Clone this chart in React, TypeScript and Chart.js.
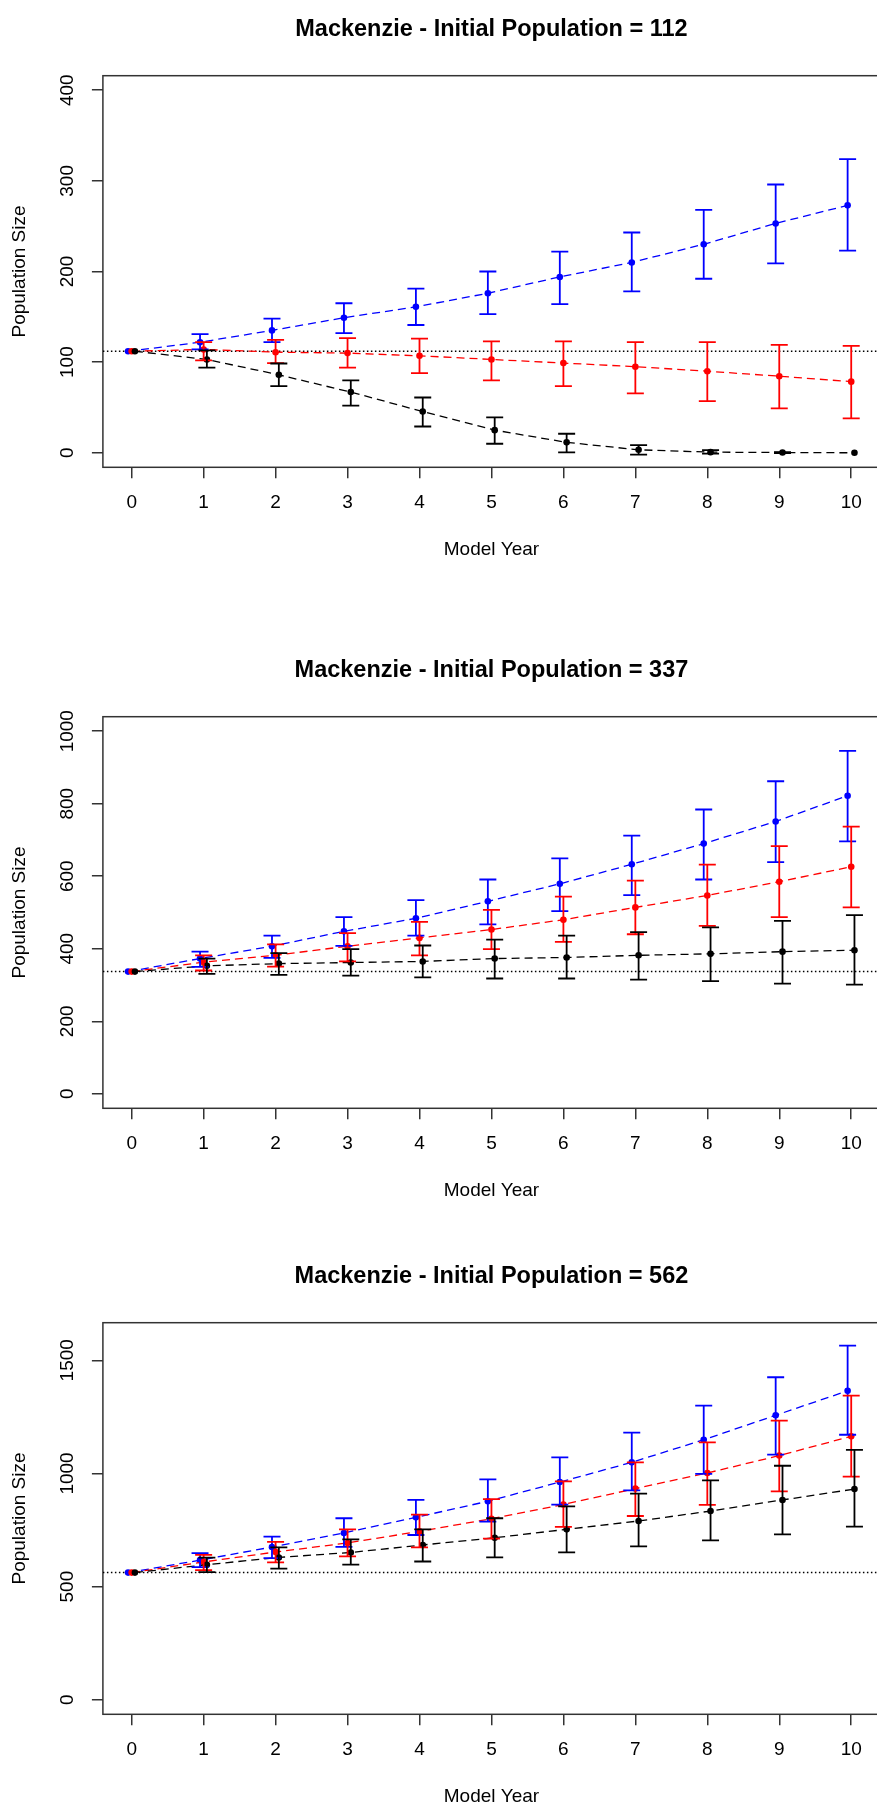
import React, { useEffect, useRef } from "react";
import { Chart, registerables } from "chart.js";

Chart.register(...registerables);

const FONT = '"Liberation Sans", Arial, Helvetica, sans-serif';

// Shared x axis: model years, padded 4% each side like base R plots
const YEARS = [0, 1, 2, 3, 4, 5, 6, 7, 8, 9, 10];
const X_MIN = -0.4;
const X_MAX = 10.4;
const X_TITLE = "Model Year";
const Y_TITLE = "Population Size";

// small horizontal nudges so the three scenarios don't hide each other
const NUDGE_BLUE = -0.05;
const NUDGE_RED = 0;
const NUDGE_BLACK = 0.045;

const BLUE = "#0000ff";
const RED = "#ff0000";
const BLACK = "#000000";

// ---- Initial population 112 ----
const P112_TITLE = "Mackenzie - Initial Population = 112";
const P112_START = 112;
const P112_Y_TICKS = [0, 100, 200, 300, 400];
const P112_Y_MIN = -16;
const P112_Y_MAX = 416;
const P112_BLUE = [112, 122, 135, 149, 161, 176, 194, 210, 230, 253, 273];
const P112_BLUE_LO = [112, 114, 122, 132, 141, 153, 164, 178, 192, 209, 223];
const P112_BLUE_HI = [112, 131, 148, 165, 181, 200, 222, 243, 268, 296, 324];
const P112_RED = [112, 114, 111, 110, 107, 103, 99, 95, 90, 84.5, 78.5];
const P112_RED_LO = [112, 102, 99, 94, 88, 80, 73.5, 65.5, 57, 49, 38];
const P112_RED_HI = [112, 122, 124.5, 126.5, 126, 123, 123, 122, 122, 119, 118];
const P112_BLACK = [112, 103, 86, 67, 45.5, 25, 11.5, 3.3, 0.7, 0.3, 0];
const P112_BLACK_LO = [112, 94, 73.5, 52, 29, 10, 0.5, -2, -1, -0.2, 0];
const P112_BLACK_HI = [112, 113, 98.5, 80, 61, 39, 21, 8.5, 3, 0.8, 0];

// ---- Initial population 337 ----
const P337_TITLE = "Mackenzie - Initial Population = 337";
const P337_START = 337;
const P337_Y_TICKS = [0, 200, 400, 600, 800, 1000];
const P337_Y_MIN = -40;
const P337_Y_MAX = 1040;
const P337_BLUE = [337, 373, 407, 448, 484, 531, 579, 633, 690, 751, 822];
const P337_BLUE_LO = [337, 350, 375, 408, 436, 467, 504, 548, 591, 639, 696];
const P337_BLUE_HI = [337, 392, 436, 487, 534, 591, 649, 712, 784, 862, 946];
const P337_RED = [337, 363, 382, 407, 430, 453, 480, 514, 547, 585, 626];
const P337_RED_LO = [337, 340, 351, 365, 382, 399, 419, 440, 463, 487, 514];
const P337_RED_HI = [337, 382, 412, 443, 474, 507, 544, 588, 632, 683, 737];
const P337_BLACK = [337, 353, 359, 362, 365, 373, 376, 382, 386, 392, 396];
const P337_BLACK_LO = [337, 331, 328, 326, 321, 318, 318, 315, 311, 304, 301];
const P337_BLACK_HI = [337, 373, 388, 399, 409, 425, 436, 446, 459, 477, 493];

// ---- Initial population 562 ----
const P562_TITLE = "Mackenzie - Initial Population = 562";
const P562_START = 562;
const P562_Y_TICKS = [0, 500, 1000, 1500];
const P562_Y_MIN = -64;
const P562_Y_MAX = 1666;
const P562_BLUE = [562, 617, 675, 737, 806, 877, 962, 1049, 1149, 1257, 1365];
const P562_BLUE_LO = [562, 586, 626, 676, 728, 787, 862, 925, 998, 1083, 1171];
const P562_BLUE_HI = [562, 648, 721, 802, 883, 974, 1071, 1180, 1300, 1425, 1565];
const P562_RED = [562, 609, 653, 693, 744, 800, 863, 933, 1002, 1079, 1164];
const P562_RED_LO = [562, 573, 607, 634, 673, 712, 764, 812, 861, 921, 986];
const P562_RED_HI = [562, 640, 698, 753, 818, 887, 965, 1049, 1137, 1233, 1344];
const P562_BLACK = [562, 597, 629, 651, 684, 716, 753, 790, 834, 883, 931];
const P562_BLACK_LO = [562, 564, 580, 597, 611, 629, 651, 678, 704, 731, 765];
const P562_BLACK_HI = [562, 628, 673, 709, 753, 802, 855, 911, 969, 1034, 1104];

// panel geometry
const CANVAS_W = 880;
const CANVAS_H = 580;
const PLOT_LEFT = 102.9;
const PLOT_BOTTOM = 467.3;
const TICK_LEN = 11;
const AXIS_FONT_SIZE = 19;
const TITLE_FONT_SIZE = 23.5;

type Series = {
  mean: number[];
  low: number[];
  high: number[];
  color: string;
  nudge: number;
  order: number;
};

type PanelProps = {
  top: number;
  title: string;
  start: number;
  yTicks: number[];
  yMin: number;
  yMax: number;
  series: Series[];
};

// vertical error bars with flat caps, drawn through the chart's scales
const errorBarPlugin = {
  id: "errorBars",
  afterDatasetsDraw(chart: any) {
    const { ctx } = chart;
    const xs = chart.scales.x;
    const ys = chart.scales.y;
    const cap = 8.5;
    const withBars = chart.data.datasets
      .filter((ds: any) => ds.errLow)
      .sort((a: any, b: any) => b.order - a.order);
    for (const ds of withBars) {
      ctx.save();
      ctx.strokeStyle = ds.borderColor;
      ctx.lineWidth = 1.8;
      ds.data.forEach((p: any, j: number) => {
        const lo = ds.errLow[j];
        const hi = ds.errHigh[j];
        if (!(hi > lo)) return;
        const px = xs.getPixelForValue(p.x);
        const yLo = ys.getPixelForValue(lo);
        const yHi = ys.getPixelForValue(hi);
        ctx.beginPath();
        ctx.moveTo(px, yLo);
        ctx.lineTo(px, yHi);
        ctx.moveTo(px - cap, yLo);
        ctx.lineTo(px + cap, yLo);
        ctx.moveTo(px - cap, yHi);
        ctx.lineTo(px + cap, yHi);
        ctx.stroke();
      });
      ctx.restore();
    }
  },
};

// frame around the plotting region
const plotBoxPlugin = {
  id: "plotBox",
  beforeDatasetsDraw(chart: any) {
    const { ctx, chartArea } = chart;
    ctx.save();
    ctx.strokeStyle = "#333333";
    ctx.lineWidth = 1.5;
    ctx.strokeRect(
      chartArea.left,
      chartArea.top,
      chartArea.right - chartArea.left,
      chartArea.bottom - chartArea.top
    );
    ctx.restore();
  },
};

function Panel({ top, title, start, yTicks, yMin, yMax, series }: PanelProps) {
  const ref = useRef<HTMLCanvasElement>(null);

  useEffect(() => {
    const canvas = ref.current;
    if (!canvas) return;
    const mctx = canvas.getContext("2d")!;
    mctx.font = `${AXIS_FONT_SIZE}px ${FONT}`;
    const widest = Math.max(...yTicks.map((v) => mctx.measureText(String(v)).width));
    const yLabelCenter = 67.4;
    const yPad = PLOT_LEFT - TICK_LEN - widest / 2 - yLabelCenter;

    const axisFont = { family: FONT, size: AXIS_FONT_SIZE };
    const gridOpts = {
      drawOnChartArea: false,
      drawTicks: true,
      tickLength: TICK_LEN,
      color: "#333333",
      lineWidth: 1.5,
    };

    const datasets: any[] = [
      {
        label: "start",
        data: [
          { x: X_MIN, y: start },
          { x: X_MAX, y: start },
        ],
        borderColor: BLACK,
        borderWidth: 1.5,
        borderDash: [1.5, 2.5],
        pointRadius: 0,
        pointHoverRadius: 0,
        order: 10,
      },
      ...series.map((s) => ({
        label: s.color,
        data: YEARS.map((yr, i) => ({ x: yr + s.nudge, y: s.mean[i] })),
        borderColor: s.color,
        backgroundColor: s.color,
        borderWidth: 1.3,
        borderDash: [8, 5],
        pointRadius: 3.3,
        pointHoverRadius: 3.3,
        pointBorderWidth: 0,
        pointBackgroundColor: s.color,
        tension: 0,
        order: s.order,
        errLow: s.low,
        errHigh: s.high,
      })),
    ];

    const chart = new Chart(canvas, {
      type: "line",
      data: { datasets },
      options: {
        animation: false,
        responsive: false,
        devicePixelRatio: 1,
        events: [],
        layout: { padding: 0, autoPadding: false },
        plugins: {
          legend: { display: false },
          tooltip: { enabled: false },
          title: {
            display: true,
            text: title,
            fullSize: false,
            color: "#000000",
            font: { family: FONT, size: TITLE_FONT_SIZE, weight: "bold" },
            padding: { top: 15.5, bottom: 32.0 },
          },
        },
        scales: {
          x: {
            type: "linear",
            min: X_MIN,
            max: X_MAX,
            afterBuildTicks: (s: any) => {
              s.ticks = YEARS.map((v) => ({ value: v }));
            },
            afterFit: (s: any) => {
              s.height = CANVAS_H - PLOT_BOTTOM;
            },
            grid: gridOpts,
            border: { display: false },
            ticks: {
              autoSkip: false,
              minRotation: 0,
              maxRotation: 0,
              padding: 13.3,
              color: "#000000",
              font: axisFont,
              callback: (v: any) => String(v),
            },
            title: {
              display: true,
              text: X_TITLE,
              color: "#000000",
              font: axisFont,
              padding: { top: 0, bottom: 18.8 },
            },
          },
          y: {
            type: "linear",
            min: yMin,
            max: yMax,
            afterBuildTicks: (s: any) => {
              s.ticks = yTicks.map((v) => ({ value: v }));
            },
            afterFit: (s: any) => {
              s.width = PLOT_LEFT;
            },
            grid: gridOpts,
            border: { display: false },
            ticks: {
              autoSkip: false,
              minRotation: 90,
              maxRotation: 90,
              crossAlign: "center",
              padding: yPad,
              color: "#000000",
              font: axisFont,
              callback: (v: any) => String(v),
            },
            title: {
              display: true,
              text: Y_TITLE,
              color: "#000000",
              font: axisFont,
              padding: { top: 8.7, bottom: 0 },
            },
          },
        },
      } as any,
      plugins: [plotBoxPlugin, errorBarPlugin],
    });

    return () => chart.destroy();
  }, [title, start, yTicks, yMin, yMax, series]);

  return (
    <div
      style={{
        position: "absolute",
        left: 0,
        top,
        width: CANVAS_W,
        height: CANVAS_H,
      }}
    >
      <canvas
        ref={ref}
        width={CANVAS_W}
        height={CANVAS_H}
        style={{ display: "block", width: CANVAS_W, height: CANVAS_H }}
      />
    </div>
  );
}

const SERIES_112: Series[] = [
  { mean: P112_BLUE, low: P112_BLUE_LO, high: P112_BLUE_HI, color: BLUE, nudge: NUDGE_BLUE, order: 3 },
  { mean: P112_RED, low: P112_RED_LO, high: P112_RED_HI, color: RED, nudge: NUDGE_RED, order: 2 },
  { mean: P112_BLACK, low: P112_BLACK_LO, high: P112_BLACK_HI, color: BLACK, nudge: NUDGE_BLACK, order: 1 },
];
const SERIES_337: Series[] = [
  { mean: P337_BLUE, low: P337_BLUE_LO, high: P337_BLUE_HI, color: BLUE, nudge: NUDGE_BLUE, order: 3 },
  { mean: P337_RED, low: P337_RED_LO, high: P337_RED_HI, color: RED, nudge: NUDGE_RED, order: 2 },
  { mean: P337_BLACK, low: P337_BLACK_LO, high: P337_BLACK_HI, color: BLACK, nudge: NUDGE_BLACK, order: 1 },
];
const SERIES_562: Series[] = [
  { mean: P562_BLUE, low: P562_BLUE_LO, high: P562_BLUE_HI, color: BLUE, nudge: NUDGE_BLUE, order: 3 },
  { mean: P562_RED, low: P562_RED_LO, high: P562_RED_HI, color: RED, nudge: NUDGE_RED, order: 2 },
  { mean: P562_BLACK, low: P562_BLACK_LO, high: P562_BLACK_HI, color: BLACK, nudge: NUDGE_BLACK, order: 1 },
];

export default function App() {
  return (
    <div
      style={{
        position: "absolute",
        left: 0,
        top: 0,
        width: 877,
        height: 1807,
        overflow: "hidden",
        background: "#ffffff",
      }}
    >
      <Panel
        top={0}
        title={P112_TITLE}
        start={P112_START}
        yTicks={P112_Y_TICKS}
        yMin={P112_Y_MIN}
        yMax={P112_Y_MAX}
        series={SERIES_112}
      />
      <Panel
        top={641}
        title={P337_TITLE}
        start={P337_START}
        yTicks={P337_Y_TICKS}
        yMin={P337_Y_MIN}
        yMax={P337_Y_MAX}
        series={SERIES_337}
      />
      <Panel
        top={1247}
        title={P562_TITLE}
        start={P562_START}
        yTicks={P562_Y_TICKS}
        yMin={P562_Y_MIN}
        yMax={P562_Y_MAX}
        series={SERIES_562}
      />
    </div>
  );
}
